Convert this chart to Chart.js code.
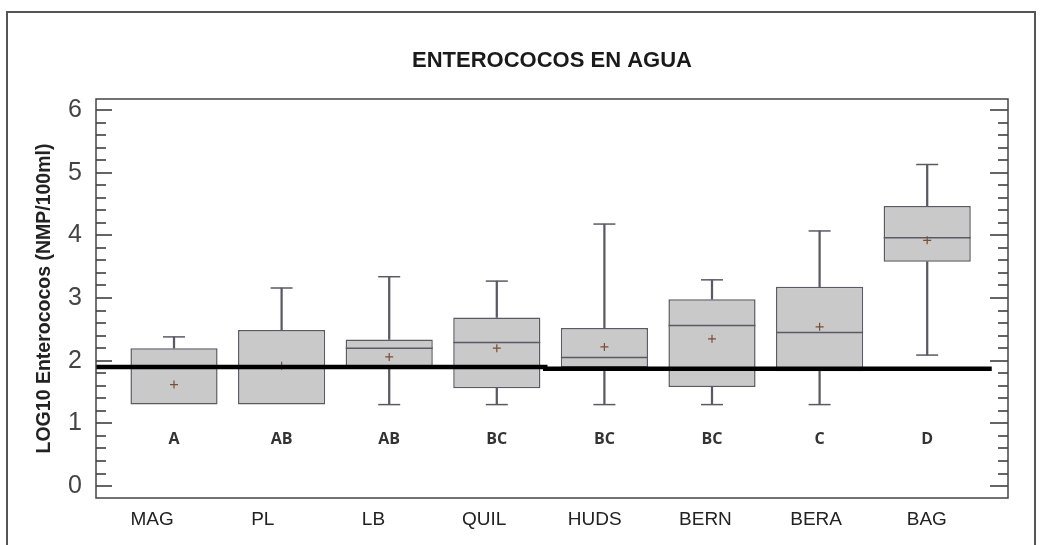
<!DOCTYPE html>
<html>
<head>
<meta charset="utf-8">
<script src="https://cdn.jsdelivr.net/npm/chart.js@4.4.0/dist/chart.umd.min.js"></script>
<style>
html, body { margin: 0; padding: 0; background: #fff; overflow: hidden; width: 1054px; height: 545px; }
#frame { position: absolute; left: 6px; top: 11px; width: 1026px; height: 600px; border: 2px solid #555; }
#c { position: absolute; left: 0; top: 0; }
</style>
</head>
<body>
<div id="frame"></div>
<canvas id="c" width="1054" height="545"></canvas>
<script>
// ---- data ----
const chartTitle = 'ENTEROCOCOS EN AGUA';
const yTitle = 'LOG10 Enterococos (NMP/100ml)';
const categories = ['MAG', 'PL', 'LB', 'QUIL', 'HUDS', 'BERN', 'BERA', 'BAG'];
const whiskerMin = [1.30, 1.30, 1.30, 1.30, 1.30, 1.30, 1.30, 2.09];
const q1         = [1.30, 1.30, 1.91, 1.56, 1.89, 1.58, 1.83, 3.58];
const median     = [1.90, 1.90, 2.20, 2.29, 2.05, 2.56, 2.45, 3.96];
const q3         = [2.20, 2.49, 2.34, 2.69, 2.52, 2.98, 3.18, 4.47];
const whiskerMax = [2.38, 3.16, 3.34, 3.27, 4.18, 3.29, 4.07, 5.13];
const means      = [1.62, 1.92, 2.06, 2.20, 2.22, 2.35, 2.54, 3.92];
const groups     = ['A', 'AB', 'AB', 'BC', 'BC', 'BC', 'C', 'D'];
const refLineX   = [-0.725, 3.45, 3.45, 7.60];
const refLineY   = [1.90, 1.90, 1.87, 1.87];
const yTicks     = [0, 1, 2, 3, 4, 5, 6];

// ---- styling ----
const boxEdge = '#5a5a64';
const boxFill = '#c9c9ca';
const minorStep = 0.2;
const groupLevel = 0.75;

const idx = categories.map((_, i) => i);

const decor = {
  id: 'decor',
  afterDatasetsDraw(chart) {
    const { ctx, chartArea: a, scales } = chart;
    const xs = scales.x, ys = scales.y;
    ctx.save();
    // inner tick marks (left and right)
    ctx.strokeStyle = '#333';
    ctx.lineWidth = 1.5;
    const lo = yTicks[0], hi = yTicks[yTicks.length - 1];
    const n = Math.round((hi - lo) / minorStep);
    for (let k = 0; k <= n; k++) {
      const v = lo + k * minorStep;
      const major = Math.abs(v - Math.round(v)) < 1e-6;
      const py = Math.round(ys.getPixelForValue(v));
      ctx.beginPath();
      ctx.moveTo(a.left, py);
      ctx.lineTo(a.left + (major ? 16 : 10), py);
      ctx.moveTo(a.right, py);
      ctx.lineTo(a.right - (major ? 18 : 10), py);
      ctx.stroke();
    }
    // plot frame
    ctx.strokeStyle = '#444';
    ctx.lineWidth = 1.5;
    ctx.strokeRect(a.left, a.top, a.right - a.left, a.bottom - a.top);
    // group letters
    ctx.fillStyle = '#333';
    ctx.font = 'bold 16px "Open Sans"';
    ctx.textAlign = 'center';
    ctx.textBaseline = 'middle';
    groups.forEach((g, i) => {
      ctx.fillText(g, xs.getPixelForValue(i), ys.getPixelForValue(groupLevel));
    });
    // title centred over the plot area
    ctx.fillStyle = '#1a1a1a';
    ctx.font = 'bold 22px "Liberation Sans"';
    ctx.fillText(chartTitle, (a.left + a.right) / 2, 61);
    ctx.restore();
  }
};

new Chart(document.getElementById('c'), {
  type: 'bar',
  data: {
    datasets: [
      {
        type: 'line', label: 'ref',
        data: refLineX.map((x, i) => ({ x, y: refLineY[i] })),
        borderColor: '#000', borderWidth: 4.5, pointRadius: 0, tension: 0, order: 0
      },
      {
        type: 'scatter', label: 'mean',
        data: idx.map(i => ({ x: i, y: means[i] })),
        pointStyle: 'cross', pointRadius: 4, borderColor: '#7a4e33', borderWidth: 1.2, order: 1
      },
      {
        type: 'scatter', label: 'median',
        data: idx.map(i => ({ x: i, y: median[i] })),
        pointStyle: 'line', pointRadius: 43.5, borderColor: boxEdge, borderWidth: 1.5, order: 2
      },
      {
        type: 'scatter', label: 'caps',
        data: idx.map(i => ({ x: i, y: whiskerMax[i] }))
          .concat(idx.filter(i => whiskerMin[i] < q1[i]).map(i => ({ x: i, y: whiskerMin[i] }))),
        pointStyle: 'line', pointRadius: 11, borderColor: boxEdge, borderWidth: 1.5, order: 2
      },
      {
        type: 'bar', label: 'box',
        data: idx.map(i => ({ x: i, y: [q1[i], q3[i]] })),
        backgroundColor: boxFill, borderColor: boxEdge, borderWidth: 1.5, borderSkipped: false,
        grouped: false, barPercentage: 0.81, categoryPercentage: 1, order: 3
      },
      {
        type: 'bar', label: 'upper whisker',
        data: idx.map(i => ({ x: i, y: [q3[i], whiskerMax[i]] })),
        backgroundColor: boxEdge, borderWidth: 0, barThickness: 1.6, grouped: false, order: 4
      },
      {
        type: 'bar', label: 'lower whisker',
        data: idx.filter(i => whiskerMin[i] < q1[i]).map(i => ({ x: i, y: [whiskerMin[i], q1[i]] })),
        backgroundColor: boxEdge, borderWidth: 0, barThickness: 1.6, grouped: false, order: 4
      }
    ]
  },
  options: {
    responsive: false,
    animation: false,
    devicePixelRatio: 1,
    layout: { padding: { top: 99, right: 46, left: 0, bottom: 0 } },
    plugins: { legend: { display: false }, tooltip: { enabled: false }, title: { display: false } },
    scales: {
      x: {
        type: 'linear', display: false, offset: false, min: -0.725, max: 7.751,
        afterBuildTicks: s => { s.ticks = idx.map(v => ({ value: v })); }
      },
      xl: {
        type: 'linear', position: 'bottom', offset: false, min: -0.507, max: 7.734,
        grid: { display: false, drawTicks: false }, border: { display: false },
        afterBuildTicks: s => { s.ticks = idx.map(v => ({ value: v })); },
        afterFit: s => { s.height = 47; },
        ticks: {
          autoSkip: false, maxRotation: 0, padding: 10, color: '#222',
          font: { family: 'Liberation Sans', size: 19 },
          callback: v => categories[Math.round(v)]
        }
      },
      y: {
        type: 'linear', position: 'left', min: -0.19, max: 6.175,
        grid: { display: false, drawTicks: false }, border: { display: false },
        afterBuildTicks: s => { s.ticks = yTicks.map(v => ({ value: v })); },
        afterFit: s => { s.width = 96; },
        ticks: { padding: 14, color: '#444', font: { family: 'Liberation Sans', size: 25 } },
        title: {
          display: true, text: yTitle, color: '#222',
          font: { family: 'Liberation Sans', size: 19.5, weight: 'bold' },
          padding: { top: 33, bottom: 0 }
        }
      }
    }
  },
  plugins: [decor]
});
</script>
</body>
</html>
